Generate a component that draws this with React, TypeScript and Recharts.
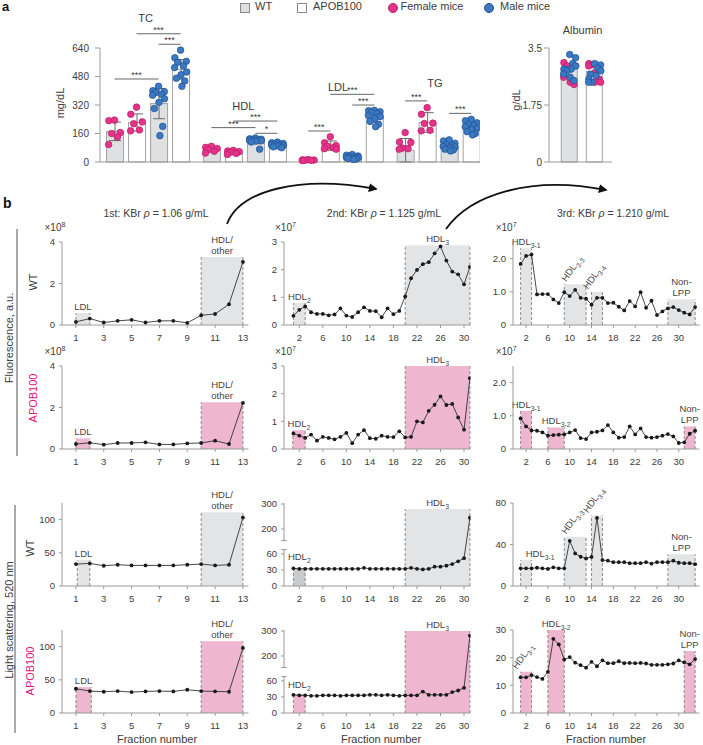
import React from "react";
import {
  ComposedChart,
  Bar,
  Line,
  Scatter,
  XAxis,
  YAxis,
  ErrorBar,
  Cell,
  ReferenceArea,
  ReferenceLine,
} from "recharts";

const FONT = "'Liberation Sans', Arial, Helvetica, sans-serif";
const INK = "#3c3c3c";
const AXIS = "#9a9a9a";
const PINK = "#e6338a";
const BLUE = "#3c79c4";
const MAGENTA = "#e4107f";
const WT_BAR = "#dfe0e2";
const BOX_GRAY = "#e3e4e6";
const BOX_PINK = "#efb6cf";

// ---------- a: plasma lipids (mg/dL) ----------
const LIPIDS = ["TC", "HDL", "LDL", "TG"];
const GROUPS = ["WT female", "APOB100 female", "WT male", "APOB100 male"];

const TC_MEAN = [172, 222, 328, 520];
const HDL_MEAN = [72, 56, 120, 97];
const LDL_MEAN = [12, 92, 28, 252];
const TG_MEAN = [66, 222, 86, 200];

const TC_SD = [52, 48, 85, 55];
const HDL_SD = [14, 9, 18, 10];
const LDL_SD = [3, 26, 9, 28];
const TG_SD = [66, 55, 22, 28];

const TC_DOTS = [
  [235, 232, 165, 160, 140, 98],
  [308, 268, 225, 215, 180, 175],
  [425, 400, 395, 390, 380, 375, 355, 335, 300, 200, 148],
  [628, 585, 565, 560, 540, 530, 505, 490, 470, 455, 425],
];
const HDL_DOTS = [
  [88, 82, 76, 70, 60, 50],
  [65, 62, 58, 55, 48, 42],
  [135, 130, 128, 126, 124, 122, 120, 118, 112, 72],
  [112, 108, 104, 100, 98, 96, 92, 90, 85, 80],
];
const LDL_DOTS = [
  [14, 12, 11, 10, 9, 8],
  [142, 108, 92, 88, 80, 75, 72],
  [42, 38, 34, 30, 28, 26, 24, 22, 20, 18, 14],
  [290, 288, 282, 278, 272, 262, 255, 242, 228, 212, 198],
];
const TG_DOTS = [
  [165, 112, 110, 78, 75, 72],
  [305, 268, 218, 216, 178, 175],
  [124, 118, 105, 98, 92, 88, 84, 78, 72, 68, 62],
  [240, 232, 220, 212, 205, 198, 190, 182, 170, 160, 152],
];
const LIPID_TICKS = [0, 160, 320, 480, 640];

// [lipid, group a, group b, height, stars]
const SIG_BARS: [number, number, number, number, string][] = [
  [0, 0, 2, 466, "***"],
  [0, 1, 3, 720, "***"],
  [0, 2, 3, 661, "***"],
  [1, 0, 2, 193, "***"],
  [1, 1, 3, 230, "***"],
  [1, 2, 3, 161, "*"],
  [2, 0, 1, 174, "***"],
  [2, 1, 3, 380, "***"],
  [2, 2, 3, 320, "***"],
  [3, 0, 1, 343, "***"],
  [3, 2, 3, 273, "***"],
];

// albumin (g/dL), WT then APOB100
const ALB_MEAN = [2.85, 2.78];
const ALB_FEMALE = [
  [3.05, 2.95, 2.6, 2.45, 2.38],
  [3.02, 2.98, 2.95, 2.75, 2.55, 2.45, 2.45],
];
const ALB_MALE = [
  [3.3, 3.2, 3.02, 2.95, 2.85, 2.85, 2.85, 2.8, 2.7, 2.6, 2.5],
  [3.02, 2.98, 2.88, 2.8, 2.7, 2.65, 2.55, 2.45, 2.45],
];
const ALB_TICKS = [0, 1.75, 3.5];

// ---------- b: fraction profiles ----------
const FL_WT_1 = [0.15, 0.31, 0.12, 0.2, 0.25, 0.12, 0.2, 0.2, 0.1, 0.47, 0.53, 1.0, 3.04];
const FL_APOB_1 = [0.24, 0.3, 0.21, 0.29, 0.29, 0.32, 0.22, 0.22, 0.27, 0.29, 0.4, 0.24, 2.22];
const FL_WT_2 = [
  0.33, 0.55, 0.67, 0.46, 0.4, 0.4, 0.35, 0.38, 0.6, 0.34, 0.29, 0.46, 0.64, 0.51, 0.5, 0.28,
  0.6, 0.39, 0.51, 1.03, 1.69, 1.99, 2.2, 2.27, 2.59, 2.84, 2.33, 1.93, 1.83, 1.47, 2.1,
];
const FL_APOB_2 = [
  0.56, 0.48, 0.4, 0.52, 0.3, 0.44, 0.4, 0.35, 0.44, 0.58, 0.21, 0.52, 0.68, 0.39, 0.37, 0.48,
  0.44, 0.43, 0.64, 0.42, 0.44, 1.0, 0.96, 1.38, 1.6, 1.9, 1.59, 1.63, 1.14, 0.7, 2.56,
];
const FL_WT_3 = [
  1.84, 2.08, 2.12, 0.92, 0.93, 0.93, 0.77, 0.66, 0.99, 0.87, 1.06, 0.82, 0.79, 0.61, 0.82, 0.82,
  0.66, 0.67, 0.55, 0.44, 0.72, 0.56, 0.99, 0.52, 0.73, 0.3, 0.41, 0.5, 0.54, 0.45, 0.37, 0.32, 0.54,
];
const FL_APOB_3 = [
  0.92, 0.68, 0.56, 0.55, 0.5, 0.4, 0.42, 0.43, 0.44, 0.5, 0.57, 0.33, 0.3, 0.5, 0.52, 0.56,
  0.72, 0.5, 0.34, 0.36, 0.68, 0.44, 0.62, 0.36, 0.34, 0.36, 0.4, 0.45, 0.38, 0.18, 0.2, 0.46, 0.55,
];
const LS_WT_1 = [33, 34, 30.5, 32, 31, 31, 31, 31, 32, 33, 31, 32, 103];
const LS_APOB_1 = [36.5, 33, 32, 33, 31.5, 32.5, 33, 32.5, 35, 33, 32.5, 32, 98];
const LS_WT_2 = [
  33, 32, 32, 32, 32, 32, 32, 32, 32, 32, 32, 32, 34, 32, 32, 32, 32, 32, 32, 32, 34, 32, 31, 32,
  36, 36, 38, 41, 46, 52, 245,
];
const LS_APOB_2 = [
  34, 33, 33, 32, 32, 33, 33, 33, 32, 33, 33, 33, 33, 34, 34, 33, 34, 33, 32, 33, 33, 33, 40, 34,
  34, 34, 34, 39, 42, 47, 282,
];
const LS_WT_3 = [
  17, 17, 17, 17.6, 17, 16.5, 18, 17, 17, 43.5, 31.4, 28.2, 26.6, 28, 65.6, 25, 24.4, 23, 23, 23,
  22, 22, 22, 23, 21.5, 23, 23, 23, 24.4, 22.4, 22, 22, 21,
];
const LS_APOB_3 = [
  12.9, 12.9, 13.7, 13, 12.3, 14.9, 26.8, 24.8, 19.3, 20.2, 18.2, 17.3, 16.4, 18.5, 16.9, 19, 18,
  18, 18.7, 18, 18.1, 18, 18.1, 17.9, 17.4, 17.4, 17.4, 17.6, 17.9, 19, 18.3, 17.6, 19.5,
];

// shaded pools: [first fraction, last fraction, height, name]
type Pool = [number, number, number, string];
const FL_WT_1_POOLS: Pool[] = [[1, 2, 0.58, "LDL"], [10, 13, 3.28, "HDL/|other"]];
const FL_APOB_1_POOLS: Pool[] = [[1, 2, 0.51, "LDL"], [10, 13, 2.25, "HDL/|other"]];
const FL_WT_2_POOLS: Pool[] = [[1, 3, 0.8, "HDL_2"], [20, 31, 2.88, "HDL_3"]];
const FL_APOB_2_POOLS: Pool[] = [[0.9, 3, 0.68, "HDL_2"], [20, 31, 3.0, "HDL_3"]];
const FL_WT_3_POOLS: Pool[] = [
  [1, 3, 2.31, "HDL_3-1"],
  [9, 13, 1.23, "HDL_3-3"],
  [14, 16, 1.0, "HDL_3-4"],
  [28, 33, 0.77, "Non-|LPP"],
];
const FL_APOB_3_POOLS: Pool[] = [[1, 3, 1.15, "HDL_3-1"], [6, 9, 0.65, "HDL_3-2"], [31, 33, 0.68, "Non-|LPP"]];
const LS_WT_1_POOLS: Pool[] = [[1.1, 2, 39, "LDL"], [10, 13, 111, "HDL/|other"]];
const LS_APOB_1_POOLS: Pool[] = [[1, 2.1, 39, "LDL"], [10, 13, 108, "HDL/|other"]];
const LS_WT_2_POOLS: Pool[] = [[1, 3, 33, "HDL_2"], [20, 31, 280, "HDL_3"]];
const LS_APOB_2_POOLS: Pool[] = [[1, 3, 35, "HDL_2"], [20, 31, 300, "HDL_3"]];
const LS_WT_3_POOLS: Pool[] = [
  [1, 3, 25, "HDL_3-1"],
  [9, 13, 47.4, "HDL_3-3"],
  [14, 16, 68, "HDL_3-4"],
  [28, 33, 30.5, "Non-|LPP"],
];
const LS_APOB_3_POOLS: Pool[] = [[1, 3, 14.9, "HDL_3-1"], [6, 9, 30, "HDL_3-2"], [31, 33, 22.4, "Non-|LPP"]];

const FRACTION_TICKS = [
  [1, 3, 5, 7, 9, 11, 13],
  [2, 6, 10, 14, 18, 22, 26, 30],
  [2, 6, 10, 14, 18, 22, 26, 30],
];
const COLUMN_TITLES = ["1st: KBr ", "2nd: KBr ", "3rd: KBr "];
const COLUMN_DENSITY = ["1.06", "1.125", "1.210"];

// ---------- layout helpers ----------
const BAR_STEP = 4.4;
const barX = (g: number, i: number) => g * BAR_STEP + i;
const JITTER = [0, -0.26, 0.26, -0.13, 0.13, -0.27, 0.27, 0.02, -0.19, 0.19, 0.06];

const MEANS = [TC_MEAN, HDL_MEAN, LDL_MEAN, TG_MEAN];
const SDS = [TC_SD, HDL_SD, LDL_SD, TG_SD];
const DOTS = [TC_DOTS, HDL_DOTS, LDL_DOTS, TG_DOTS];

const lipidRows = LIPIDS.flatMap((_, g) =>
  GROUPS.map((_, i) => ({ x: barX(g, i), mean: MEANS[g][i], sd: SDS[g][i], apob: i % 2 === 1 }))
);
const lipidDots = LIPIDS.flatMap((_, g) =>
  DOTS[g].flatMap((vals, i) =>
    vals.map((y, j) => ({ x: barX(g, i) + JITTER[j % JITTER.length], y, female: i < 2 }))
  )
);

const albRows = ALB_MEAN.map((mean, i) => ({ x: i, mean, apob: i === 1 }));
const albDots = [0, 1].flatMap((i) => [
  ...ALB_FEMALE[i].map((y, j) => ({ x: i + JITTER[(j * 2 + 1) % JITTER.length] * 0.9, y, female: true })),
  ...ALB_MALE[i].map((y, j) => ({ x: i + JITTER[(j * 2) % JITTER.length] * 0.9, y, female: false })),
]);

const Dot = (p: any) => (
  <circle
    cx={p.cx}
    cy={p.cy}
    r={3.3}
    fill={p.payload.female ? PINK : BLUE}
    stroke={p.payload.female ? "#b51e66" : "#1f4f8e"}
    strokeWidth={0.7}
  />
);

// fixed-width bar centred on its slot
const barShape = (w: number) => (p: any) => (
  <rect
    x={p.x + p.width / 2 - w / 2}
    y={p.y}
    width={w}
    height={Math.max(p.height, 0)}
    fill={p.fill}
    stroke="#a3a3a3"
    strokeWidth={1}
  />
);

// broken y axis used for the light-scattering 2nd-spin panels
const brk = (v: number) => (v <= 100 ? v : 106.5 + (v - 200) * 0.465);
const BREAK_LOW = 68;
const BREAK_HIGH = 85;

const COL_AXIS_X = [61.5, 284, 512.7];
const ROW_BOTTOM = [325, 449, 586, 713];
const X_DOMAINS: [number, number][] = [[0, 13.4], [-0.6, 31.1], [-0.4, 33.8]];
const EXP_OFFSET = [-17, -9, -17];
const PLOT_H = 83;
const PLOT_W = 186.5;
const YW = 40;
const TOP_M = 30;
const XH = 22;

type Tweak = { tilt?: boolean; dx?: number; dy?: number; fill?: string };
const LABEL_TWEAKS: Record<string, Tweak> = {
  "fw3:HDL_3-3": { tilt: true },
  "fw3:HDL_3-4": { tilt: true },
  "sw3:HDL_3-1": { dx: 14 },
  "sw3:HDL_3-3": { tilt: true },
  "sw3:HDL_3-4": { tilt: true },
  "sa3:HDL_3-1": { tilt: true },
  "sw2:HDL_2": { fill: "#c9cacc", dy: -5 },
  "sa2:HDL_2": { dy: -3 },
};

type PanelSpec = {
  id: string;
  row: number;
  col: number;
  values: number[];
  pools: Pool[];
  yMax: number;
  yTicks: number[];
  fmt?: (v: number) => string;
  exp?: number;
  broken?: boolean;
  fill: string;
};

const oneDecimal = (v: number) => (v === 0 ? "0" : v.toFixed(1));

const PANELS: PanelSpec[] = [
  { id: "fw1", row: 0, col: 0, values: FL_WT_1, pools: FL_WT_1_POOLS, yMax: 4, yTicks: [0, 2, 4], exp: 8, fill: BOX_GRAY },
  { id: "fw2", row: 0, col: 1, values: FL_WT_2, pools: FL_WT_2_POOLS, yMax: 3, yTicks: [0, 1, 2, 3], exp: 7, fill: BOX_GRAY },
  { id: "fw3", row: 0, col: 2, values: FL_WT_3, pools: FL_WT_3_POOLS, yMax: 2.5, yTicks: [0, 1, 2], fmt: oneDecimal, exp: 7, fill: BOX_GRAY },
  { id: "fa1", row: 1, col: 0, values: FL_APOB_1, pools: FL_APOB_1_POOLS, yMax: 4, yTicks: [0, 2, 4], exp: 8, fill: BOX_PINK },
  { id: "fa2", row: 1, col: 1, values: FL_APOB_2, pools: FL_APOB_2_POOLS, yMax: 3, yTicks: [0, 1, 2, 3], exp: 7, fill: BOX_PINK },
  { id: "fa3", row: 1, col: 2, values: FL_APOB_3, pools: FL_APOB_3_POOLS, yMax: 2.5, yTicks: [0, 1, 2], fmt: oneDecimal, exp: 7, fill: BOX_PINK },
  { id: "sw1", row: 2, col: 0, values: LS_WT_1, pools: LS_WT_1_POOLS, yMax: 125, yTicks: [0, 50, 100], fill: BOX_GRAY },
  { id: "sw2", row: 2, col: 1, values: LS_WT_2, pools: LS_WT_2_POOLS, yMax: 300, yTicks: [0, 30, 60, 200, 300], broken: true, fill: BOX_GRAY },
  { id: "sw3", row: 2, col: 2, values: LS_WT_3, pools: LS_WT_3_POOLS, yMax: 80, yTicks: [0, 40, 80], fill: BOX_GRAY },
  { id: "sa1", row: 3, col: 0, values: LS_APOB_1, pools: LS_APOB_1_POOLS, yMax: 125, yTicks: [0, 50, 100], fill: BOX_PINK },
  { id: "sa2", row: 3, col: 1, values: LS_APOB_2, pools: LS_APOB_2_POOLS, yMax: 300, yTicks: [0, 30, 60, 200, 300], broken: true, fill: BOX_PINK },
  { id: "sa3", row: 3, col: 2, values: LS_APOB_3, pools: LS_APOB_3_POOLS, yMax: 30, yTicks: [0, 10, 20, 30], fill: BOX_PINK },
];

function labelLine(line: string) {
  const [main, sub] = line.split("_");
  if (!sub) return main;
  return (
    <>
      {main}
      <tspan dy={3} fontSize={6.8}>
        {sub}
      </tspan>
    </>
  );
}

function poolLabel(name: string, tweak: Tweak) {
  return (props: any) => {
    const vb = props.viewBox;
    if (!vb) return null;
    const cx = vb.x + vb.width / 2 + (tweak.dx ?? 0);
    const top = vb.y + (tweak.dy ?? 0);
    if (tweak.tilt) {
      return (
        <text x={0} y={0} transform={`translate(${cx - 9},${top - 2}) rotate(-55)`} fontSize={9.5} fill="#444">
          {labelLine(name)}
        </text>
      );
    }
    const lines = name.split("|");
    const y0 = top - 3 - (lines.length - 1) * 11;
    return (
      <text textAnchor="middle" fontSize={9.5} fill="#444">
        {lines.map((l, i) => (
          <tspan key={i} x={cx} y={y0 + i * 11}>
            {labelLine(l)}
          </tspan>
        ))}
      </text>
    );
  };
}

function FractionPanel({ spec }: { spec: PanelSpec }) {
  const tf = spec.broken ? brk : (v: number) => v;
  const rows = spec.values.map((v, i) => ({ f: i + 1, v: tf(v) }));
  const axisX = COL_AXIS_X[spec.col];
  const plotTop = ROW_BOTTOM[spec.row] - PLOT_H;
  const xMin = X_DOMAINS[spec.col][0];
  const yTop = spec.broken ? 155 : spec.yMax;
  const fmt = spec.broken
    ? (_: number, i: number) => String(spec.yTicks[i])
    : spec.fmt ?? ((v: number) => String(v));
  const dash = { stroke: "#8d8d8d", strokeWidth: 1, strokeDasharray: "3 2" };

  return (
    <div style={{ position: "absolute", left: axisX - YW, top: plotTop - TOP_M }}>
      <ComposedChart
        width={YW + PLOT_W + 8}
        height={TOP_M + PLOT_H + XH}
        data={rows}
        margin={{ top: TOP_M, right: 8, bottom: 0, left: 0 }}
      >
        <XAxis
          dataKey="f"
          type="number"
          domain={X_DOMAINS[spec.col]}
          allowDataOverflow
          ticks={FRACTION_TICKS[spec.col]}
          height={XH}
          stroke={AXIS}
          tickSize={3}
          tickMargin={6}
          tick={{ fontSize: 9.5, fill: INK }}
        />
        <YAxis
          type="number"
          domain={[0, yTop]}
          allowDataOverflow
          ticks={spec.yTicks.map(tf)}
          tickFormatter={fmt}
          width={YW}
          stroke={AXIS}
          axisLine={!spec.broken}
          tickSize={3}
          tickMargin={4}
          tick={{ fontSize: 9.5, fill: INK }}
        />
        {spec.pools.map(([a, b, h, name]) => {
          const tweak = LABEL_TWEAKS[`${spec.id}:${name}`] ?? {};
          return (
            <ReferenceArea
              key={name}
              x1={a}
              x2={b}
              y1={0}
              y2={tf(h)}
              fill={tweak.fill ?? spec.fill}
              fillOpacity={1}
              stroke="none"
              ifOverflow="visible"
              label={poolLabel(name, tweak)}
            />
          );
        })}
        {spec.pools.flatMap(([a, b, h, name]) => [
          <ReferenceLine key={name + "a"} segment={[{ x: a, y: 0 }, { x: a, y: tf(h) }]} ifOverflow="visible" {...dash} />,
          <ReferenceLine key={name + "b"} segment={[{ x: b, y: 0 }, { x: b, y: tf(h) }]} ifOverflow="visible" {...dash} />,
        ])}
        {spec.broken && [
          <ReferenceLine key="lo" segment={[{ x: xMin, y: 0 }, { x: xMin, y: BREAK_LOW }]} stroke={AXIS} ifOverflow="visible" />,
          <ReferenceLine key="hi" segment={[{ x: xMin, y: BREAK_HIGH }, { x: xMin, y: yTop }]} stroke={AXIS} ifOverflow="visible" />,
          <ReferenceLine key="loCap" segment={[{ x: xMin - 0.45, y: BREAK_LOW }, { x: xMin + 0.45, y: BREAK_LOW }]} stroke={AXIS} ifOverflow="visible" />,
          <ReferenceLine key="hiCap" segment={[{ x: xMin - 0.45, y: BREAK_HIGH }, { x: xMin + 0.45, y: BREAK_HIGH }]} stroke={AXIS} ifOverflow="visible" />,
        ]}
        <Line
          type="linear"
          dataKey="v"
          stroke="#333"
          strokeWidth={0.9}
          dot={{ r: 1.9, fill: "#1a1a1a", stroke: "none" }}
          isAnimationActive={false}
        />
      </ComposedChart>
      {spec.exp && (
        <div
          style={{
            position: "absolute",
            left: YW + EXP_OFFSET[spec.col],
            top: TOP_M - 21,
            fontSize: 10,
            whiteSpace: "nowrap",
          }}
        >
          ×10<sup style={{ fontSize: 7 }}>{spec.exp}</sup>
        </div>
      )}
    </div>
  );
}

function LipidChart() {
  const domain: [number, number] = [-0.66, 16.6];
  return (
    <div style={{ position: "absolute", left: 60, top: 8 }}>
      <ComposedChart width={424} height={162} data={lipidRows} margin={{ top: 40, right: 4, bottom: 0, left: 0 }}>
        <XAxis dataKey="x" type="number" domain={domain} allowDataOverflow tick={false} tickLine={false} height={8} stroke={AXIS} />
        <XAxis xAxisId="dots" dataKey="x" type="number" domain={domain} allowDataOverflow hide />
        <YAxis
          type="number"
          domain={[0, 640]}
          ticks={LIPID_TICKS}
          width={40}
          stroke={AXIS}
          tickSize={5}
          tickMargin={6}
          tick={{ fontSize: 10, fill: INK }}
        />
        <Bar dataKey="mean" barSize={17} shape={barShape(17)} isAnimationActive={false}>
          {lipidRows.map((r, i) => (
            <Cell key={i} fill={r.apob ? "#fff" : WT_BAR} />
          ))}
          <ErrorBar dataKey="sd" width={6} stroke="#6a6a6a" strokeWidth={1} direction="y" />
        </Bar>
        <Scatter xAxisId="dots" data={lipidDots} dataKey="y" isAnimationActive={false} shape={Dot} />
        {SIG_BARS.map(([g, a, b, y, stars], i) => (
          <ReferenceLine
            key={i}
            segment={[{ x: barX(g, a), y }, { x: barX(g, b), y }]}
            stroke="#555"
            strokeWidth={0.9}
            ifOverflow="visible"
            label={{ value: stars, position: "top", fontSize: 9, fill: INK, offset: 1 }}
          />
        ))}
      </ComposedChart>
    </div>
  );
}

function AlbuminChart() {
  const domain: [number, number] = [-0.83, 1.69];
  return (
    <div style={{ position: "absolute", left: 509, top: 8 }}>
      <ComposedChart width={107} height={162} data={albRows} margin={{ top: 40, right: 4, bottom: 0, left: 0 }}>
        <XAxis dataKey="x" type="number" domain={domain} allowDataOverflow tick={false} tickLine={false} height={8} stroke={AXIS} />
        <XAxis xAxisId="dots" dataKey="x" type="number" domain={domain} allowDataOverflow hide />
        <YAxis
          type="number"
          domain={[0, 3.5]}
          ticks={ALB_TICKS}
          width={40}
          stroke={AXIS}
          tickSize={5}
          tickMargin={2}
          tick={{ fontSize: 10, fill: INK }}
        />
        <Bar dataKey="mean" barSize={16} shape={barShape(16)} isAnimationActive={false}>
          {albRows.map((r, i) => (
            <Cell key={i} fill={r.apob ? "#fff" : WT_BAR} />
          ))}
        </Bar>
        <Scatter xAxisId="dots" data={albDots} dataKey="y" isAnimationActive={false} shape={Dot} />
      </ComposedChart>
    </div>
  );
}

const centered = (x: number, y: number, extra: React.CSSProperties = {}): React.CSSProperties => ({
  position: "absolute",
  left: x,
  top: y,
  transform: "translate(-50%, -50%)",
  whiteSpace: "nowrap",
  ...extra,
});
const vertical = (x: number, y: number, extra: React.CSSProperties = {}): React.CSSProperties => ({
  position: "absolute",
  left: x,
  top: y,
  transform: "translate(-50%, -50%) rotate(-90deg)",
  whiteSpace: "nowrap",
  ...extra,
});

function Legend() {
  const box = (left: number, fill: string): React.CSSProperties => ({
    position: "absolute",
    left,
    top: 2.5,
    width: 8,
    height: 8,
    background: fill,
    border: "1px solid #8a8a8a",
  });
  const dot = (left: number, fill: string, stroke: string): React.CSSProperties => ({
    position: "absolute",
    left,
    top: 2.5,
    width: 8,
    height: 8,
    borderRadius: "50%",
    background: fill,
    border: `0.7px solid ${stroke}`,
  });
  const label = (left: number): React.CSSProperties => ({ position: "absolute", left, top: 0, fontSize: 11 });
  return (
    <>
      <div style={box(240, WT_BAR)} />
      <div style={label(255)}>WT</div>
      <div style={box(297, "#fff")} />
      <div style={label(313)}>APOB100</div>
      <div style={dot(388, PINK, "#b51e66")} />
      <div style={label(400.5)}>Female mice</div>
      <div style={dot(484, BLUE, "#1f4f8e")} />
      <div style={label(500)}>Male mice</div>
    </>
  );
}

export default function App() {
  const lipidLabels = [
    [145.7, 17.5],
    [243.3, 106],
    [338, 86.7],
    [435, 82.5],
  ];
  return (
    <div
      style={{
        position: "absolute",
        left: 0,
        top: 0,
        width: 703,
        height: 745,
        background: "#fff",
        fontFamily: FONT,
        color: INK,
        overflow: "hidden",
      }}
    >
      <div style={{ position: "absolute", left: 2, top: 0, fontSize: 13, lineHeight: "13px", fontWeight: 700, color: "#111" }}>a</div>
      <Legend />
      <LipidChart />
      <AlbuminChart />
      {LIPIDS.map((name, i) => (
        <div key={name} style={centered(lipidLabels[i][0], lipidLabels[i][1], { fontSize: 11 })}>
          {name}
        </div>
      ))}
      <div style={centered(582.5, 30, { fontSize: 11 })}>Albumin</div>
      <div style={vertical(60, 103, { fontSize: 11 })}>mg/dL</div>
      <div style={vertical(516, 100, { fontSize: 11 })}>g/dL</div>

      <div style={{ position: "absolute", left: 3, top: 195, fontSize: 14, fontWeight: 700, color: "#111" }}>b</div>
      <svg width={703} height={745} style={{ position: "absolute", left: 0, top: 0 }}>
        <defs>
          <marker id="head" markerWidth="5" markerHeight="5" refX="4" refY="2.5" orient="auto">
            <path d="M0,0 L5,2.5 L0,5 z" fill="#111" />
          </marker>
        </defs>
        <path d="M227,224 C240,190 300,175 376,189" stroke="#111" strokeWidth={1.8} fill="none" markerEnd="url(#head)" />
        <path d="M446,229 C470,195 530,175 606,190" stroke="#111" strokeWidth={1.8} fill="none" markerEnd="url(#head)" />
        <line x1={17} y1={229} x2={17} y2={456} stroke="#555" strokeWidth={1} />
        <line x1={15} y1={505} x2={15} y2={733} stroke="#555" strokeWidth={1} />
      </svg>
      {COLUMN_TITLES.map((t, i) => (
        <div key={t} style={centered([156, 384, 613][i], 213, { fontSize: 10.5 })}>
          {t}
          <i>ρ</i> = {COLUMN_DENSITY[i]} g/mL
        </div>
      ))}
      <div style={vertical(9, 338, { fontSize: 11 })}>Fluorescence, a.u.</div>
      <div style={vertical(9, 620, { fontSize: 11 })}>Light scattering, 520 nm</div>
      <div style={vertical(33, 282, { fontSize: 11 })}>WT</div>
      <div style={vertical(33, 398, { fontSize: 11, color: MAGENTA })}>APOB100</div>
      <div style={vertical(30, 548, { fontSize: 11 })}>WT</div>
      <div style={vertical(30, 671, { fontSize: 11, color: MAGENTA })}>APOB100</div>
      {PANELS.map((p) => (
        <FractionPanel key={p.id} spec={p} />
      ))}
      {[157, 381, 606].map((x) => (
        <div key={x} style={centered(x, 739, { fontSize: 11 })}>
          Fraction number
        </div>
      ))}
    </div>
  );
}
